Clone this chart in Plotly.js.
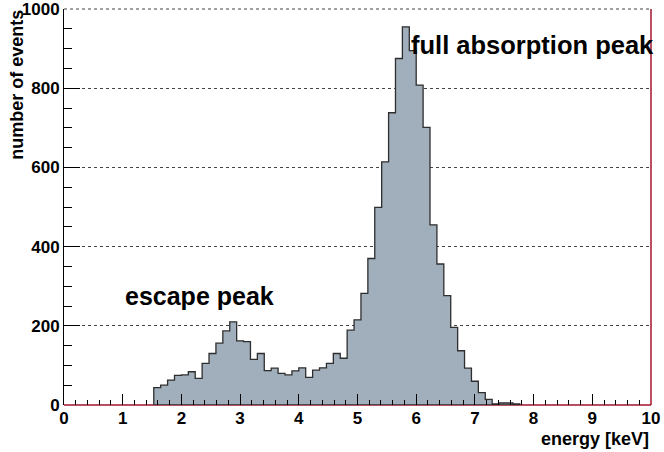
<!DOCTYPE html>
<html>
<head>
<meta charset="utf-8">
<script src="https://cdn.plot.ly/plotly-3.0.1.min.js"></script>
<style>
  html, body { margin: 0; padding: 0; background: #ffffff; }
  #chart { width: 664px; height: 452px; }
</style>
</head>
<body>
<div id="chart"></div>
<script>
// Energy spectrum: bin edges (keV) and event counts per bin
const binEdges = [
  1.5294, 1.6471, 1.7647, 1.8824, 2.0000, 2.1176, 2.2353, 2.3529, 2.4706, 2.5882,
  2.7059, 2.8235, 2.9412, 3.0588, 3.1765, 3.2941, 3.4118, 3.5294, 3.6471, 3.7647,
  3.8824, 4.0000, 4.1176, 4.2353, 4.3529, 4.4706, 4.5882, 4.7059, 4.8235, 4.9412,
  5.0588, 5.1765, 5.2941, 5.4118, 5.5294, 5.6471, 5.7647, 5.8824, 6.0000, 6.1176,
  6.2353, 6.3529, 6.4706, 6.5882, 6.7059, 6.8235, 6.9412, 7.0588, 7.1765, 7.2941,
  7.4118, 7.5294, 7.6471, 7.7647
];
const counts = [
  44, 50, 63, 75, 76, 84, 67, 105, 130, 156,
  187, 210, 162, 160, 115, 130, 87, 93, 80, 76,
  86, 94, 70, 88, 94, 105, 130, 118, 189, 215,
  282, 370, 499, 614, 738, 875, 955, 895, 808, 701,
  455, 356, 276, 196, 137, 93, 60, 31, 14, 3,
  5, 5, 3
];
const xTickLabels = ['0', '1', '2', '3', '4', '5', '6', '7', '8', '9', '10'];
const yTickLabels = ['0', '200', '400', '600', '800', '1000'];

// Step outline of the histogram, closed along the baseline
const sx = [binEdges[0]], sy = [0];
for (let i = 0; i < counts.length; i++) { sx.push(binEdges[i]); sy.push(counts[i]); }
sx.push(binEdges[binEdges.length - 1]); sy.push(0);
sx.push(binEdges[0]); sy.push(0);

const boldFont = { family: 'Liberation Sans, Arial, Helvetica, sans-serif', color: '#000000', weight: 'bold' };
const frameRed = '#a3142c';
const bold = s => '<b>' + s + '</b>';

const trace = {
  type: 'scatter',
  mode: 'lines',
  x: sx,
  y: sy,
  line: { shape: 'hv', color: '#2e2e2e', width: 1.3 },
  fill: 'toself',
  fillcolor: '#a1aebb',
  hoverinfo: 'skip',
  showlegend: false
};

const layout = {
  width: 664,
  height: 452,
  margin: { l: 64, r: 13, t: 9, b: 47, pad: 0 },
  paper_bgcolor: '#ffffff',
  plot_bgcolor: '#ffffff',
  showlegend: false,
  xaxis: {
    range: [0, 10],
    tickmode: 'array',
    tickvals: xTickLabels.map(Number),
    ticktext: xTickLabels.map(bold),
    ticks: 'inside',
    ticklen: 11,
    tickwidth: 1,
    tickcolor: '#000000',
    minor: { dtick: 0.2, ticks: 'inside', ticklen: 5, tickwidth: 1, tickcolor: '#000000', showgrid: false },
    showgrid: false,
    zeroline: false,
    showline: false,
    ticklabelstandoff: 1,
    ticklabeloverflow: 'allow',
    tickfont: Object.assign({ size: 17 }, boldFont),
    fixedrange: true
  },
  yaxis: {
    range: [0, 1000],
    tickmode: 'array',
    tickvals: yTickLabels.map(Number),
    ticktext: yTickLabels.map(bold),
    ticks: 'inside',
    ticklen: 16,
    tickwidth: 1,
    tickcolor: '#000000',
    minor: { dtick: 50, ticks: 'inside', ticklen: 8, tickwidth: 1, tickcolor: '#000000', showgrid: false },
    showgrid: true,
    gridcolor: '#444444',
    griddash: 'dot',
    gridwidth: 1,
    zeroline: false,
    showline: true,
    linecolor: '#000000',
    linewidth: 1,
    ticklabeloverflow: 'allow',
    tickfont: Object.assign({ size: 17 }, boldFont),
    fixedrange: true
  },
  shapes: [
    // frame: bottom and right edges, dotted grid line along the top edge
    { type: 'line', xref: 'paper', yref: 'paper', x0: 0, x1: 1, y0: 0, y1: 0,
      line: { color: frameRed, width: 1.5 }, layer: 'between' },
    { type: 'line', xref: 'paper', yref: 'paper', x0: 0, x1: 1, y0: 1, y1: 1,
      line: { color: '#444444', width: 1, dash: 'dot' }, layer: 'between' },
    { type: 'line', xref: 'paper', yref: 'paper', x0: 1, x1: 1, y0: 0, y1: 1,
      line: { color: frameRed, width: 1.5 }, layer: 'above' }
  ],
  annotations: [
    { text: 'number of events', xref: 'paper', yref: 'paper', x: -0.08, y: 1.003,
      xanchor: 'center', yanchor: 'top', textangle: -90, showarrow: false,
      font: Object.assign({ size: 18 }, boldFont) },
    { text: 'energy [keV]', xref: 'paper', yref: 'paper', x: 1, y: -0.086,
      xanchor: 'right', yanchor: 'middle', showarrow: false,
      font: Object.assign({ size: 18 }, boldFont) },
    { text: 'escape peak', xref: 'x', yref: 'y', x: 2.31, y: 275,
      xanchor: 'center', yanchor: 'middle', showarrow: false,
      font: Object.assign({ size: 25 }, boldFont) },
    { text: 'full absorption peak', xref: 'x', yref: 'y', x: 5.88, y: 908,
      xanchor: 'left', yanchor: 'middle', showarrow: false,
      font: Object.assign({ size: 25.5 }, boldFont) }
  ]
};

Plotly.newPlot('chart', [trace], layout, { displayModeBar: false, staticPlot: true });
</script>
</body>
</html>
